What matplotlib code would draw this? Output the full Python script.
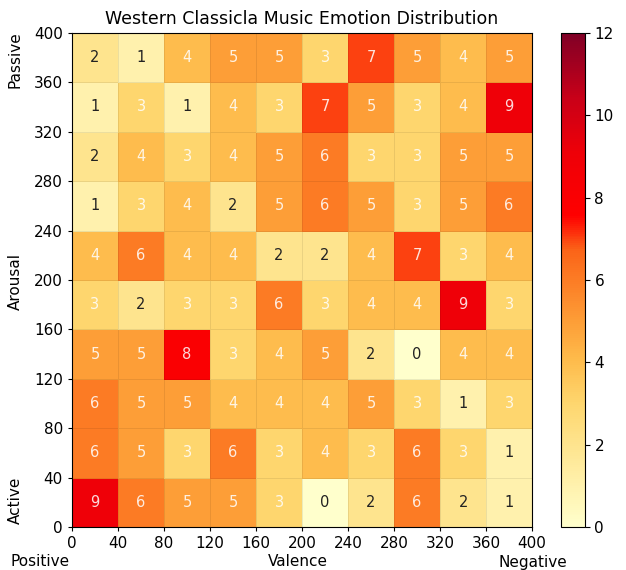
import numpy as np
import matplotlib.pyplot as plt
from matplotlib.colors import LinearSegmentedColormap

# ======================
# DATA
# ======================
# counts per 40x40 cell, rows listed from top (arousal 360-400) to bottom (0-40)
counts = [
    [2, 1, 4, 5, 5, 3, 7, 5, 4, 5],
    [1, 3, 1, 4, 3, 7, 5, 3, 4, 9],
    [2, 4, 3, 4, 5, 6, 3, 3, 5, 5],
    [1, 3, 4, 2, 5, 6, 5, 3, 5, 6],
    [4, 6, 4, 4, 2, 2, 4, 7, 3, 4],
    [3, 2, 3, 3, 6, 3, 4, 4, 9, 3],
    [5, 5, 8, 3, 4, 5, 2, 0, 4, 4],
    [6, 5, 5, 4, 4, 4, 5, 3, 1, 3],
    [6, 5, 3, 6, 3, 4, 3, 6, 3, 1],
    [9, 6, 5, 5, 3, 0, 2, 6, 2, 1],
]
edges = np.arange(0, 401, 40)
cbar_ticks = [0, 2, 4, 6, 8, 10, 12]

# ======================
# PLOT
# ======================
grid = np.array(counts)[::-1]

cmap = LinearSegmentedColormap.from_list("emo", [
    (0.0, "#ffffcc"),
    (0.25, "#fed66e"),
    (0.34, "#feba4a"),
    (0.42, "#fd9c36"),
    (0.56, "#fb6418"),
    (0.63, "#ff0000"),
    (0.76, "#ee0008"),
    (0.87, "#c80018"),
    (1.0, "#800026"),
])

fig = plt.figure(figsize=(6.26, 5.70), dpi=100)
ax = fig.add_axes([0.115, 0.0754, 0.735, 0.867])
cax = fig.add_axes([0.896, 0.0754, 0.038, 0.867])

mesh = ax.pcolormesh(edges, edges, grid, cmap=cmap, vmin=0, vmax=12,
                     edgecolors=(0, 0, 0, 0.08), linewidth=0.6)

for i in range(grid.shape[0]):
    for j in range(grid.shape[1]):
        v = grid[i, j]
        col = "#222222" if v <= 2 else (1, 1, 1, 0.85)
        ax.text(edges[j] + 20, edges[i] + 20, str(v), ha="center", va="center",
                color=col, fontsize=10.5)

ax.set_xlim(0, 400)
ax.set_ylim(0, 400)
ax.set_xticks(edges)
ax.set_yticks(edges)
ax.tick_params(labelsize=11, length=3)
ax.set_title("Western Classicla Music Emotion Distribution", fontsize=12.5, pad=6)

cb = fig.colorbar(mesh, cax=cax, ticks=cbar_ticks)
cb.ax.tick_params(labelsize=11)

fig.text(40 / 626, 1 - 562 / 570, "Positive", ha="center", va="center", fontsize=11)
fig.text(298 / 626, 1 - 562 / 570, "Valence", ha="center", va="center", fontsize=11)
fig.text(533 / 626, 1 - 562 / 570, "Negative", ha="center", va="center", fontsize=11)
fig.text(15 / 626, 1 - 60 / 570, "Passive", ha="center", va="center", rotation=90, fontsize=11)
fig.text(15 / 626, 1 - 282 / 570, "Arousal", ha="center", va="center", rotation=90, fontsize=11)
fig.text(15 / 626, 1 - 500 / 570, "Active", ha="center", va="center", rotation=90, fontsize=11)

fig.savefig("out.png", dpi=100)
